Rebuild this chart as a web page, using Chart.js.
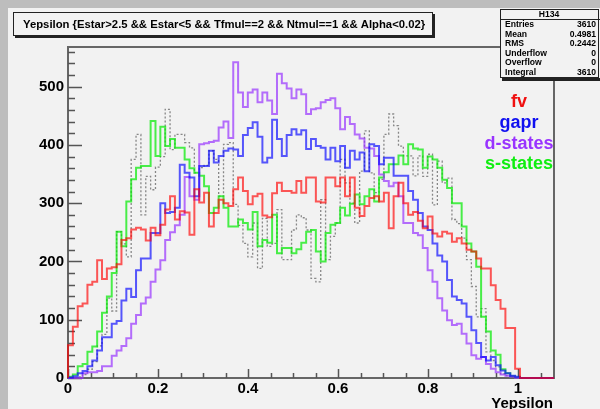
<!DOCTYPE html>
<html>
<head>
<meta charset="utf-8">
<script src="https://cdn.jsdelivr.net/npm/chart.js@4.4.1/dist/chart.umd.min.js"></script>
<style>
  html, body { margin: 0; padding: 0; background: #bdbdbd; }
  canvas { display: block; }
</style>
</head>
<body>
<canvas id="yepsilon" width="600" height="409"></canvas>
<script>
// 100 bins over [0, 1.08)
const binWidth = 0.0108;

const fv = [56, 88, 123, 128, 160, 165, 202, 170, 188, 190,
    195, 237, 240, 255, 258, 255, 236, 258, 245, 263,
    289, 312, 272, 286, 284, 246, 324, 301, 318, 260,
    283, 306, 300, 295, 324, 344, 321, 298, 312, 316,
    279, 276, 317, 335, 321, 321, 318, 338, 318, 344,
    344, 303, 301, 344, 344, 329, 344, 312, 344, 292,
    278, 295, 309, 312, 303, 318, 257, 312, 335, 300,
    280, 285, 270, 257, 277, 248, 243, 251, 248, 234,
    240, 231, 220, 217, 205, 188, 188, 159, 134, 119,
    86, 86, 16, 0, 0, 0, 0, 0, 0, 0];

const gapr = [1, 3, 8, 12, 20, 30, 47, 70, 70, 93,
    98, 133, 153, 139, 185, 205, 205, 249, 249, 300,
    283, 285, 292, 366, 352, 344, 312, 364, 364, 390,
    370, 381, 390, 394, 392, 381, 417, 429, 439, 414,
    370, 378, 443, 410, 381, 417, 427, 418, 425, 393,
    410, 398, 395, 375, 395, 372, 398, 361, 390, 375,
    387, 355, 401, 398, 367, 378, 378, 347, 347, 347,
    321, 306, 283, 260, 254, 231, 210, 200, 168, 140,
    134, 128, 105, 82, 60, 36, 30, 36, 22, 13,
    8, 4, 2, 0, 0, 0, 0, 0, 0, 0];

const dStates = [0, 0, 0, 8, 10, 10, 12, 20, 20, 38,
    47, 55, 68, 93, 108, 128, 138, 165, 186, 202,
    237, 250, 262, 280, 345, 312, 306, 401, 403, 405,
    407, 430, 440, 412, 542, 490, 465, 490, 495, 473,
    490, 476, 453, 522, 506, 497, 480, 495, 487, 453,
    461, 463, 473, 477, 480, 463, 427, 448, 436, 418,
    411, 395, 394, 381, 349, 338, 329, 335, 312, 266,
    266, 249, 245, 223, 185, 165, 137, 116, 99, 91,
    93, 76, 59, 39, 33, 36, 24, 16, 10, 6,
    4, 2, 0, 0, 0, 0, 0, 0, 0, 0];

const sStates = [2, 6, 20, 24, 45, 54, 80, 112, 140, 180,
    251, 226, 303, 341, 361, 364, 364, 441, 381, 431,
    398, 410, 395, 395, 375, 360, 352, 347, 329, 283,
    292, 312, 292, 260, 260, 272, 266, 255, 285, 226,
    237, 232, 280, 214, 223, 223, 214, 221, 232, 251,
    254, 217, 200, 249, 263, 266, 292, 279, 299, 315,
    298, 312, 324, 303, 344, 353, 367, 367, 382, 367,
    401, 394, 392, 361, 380, 375, 361, 340, 326, 300,
    300, 260, 231, 217, 191, 105, 80, 47, 40, 15,
    8, 3, 1, 0, 0, 0, 0, 0, 0, 0];

const h134 = [0, 0, 2, 6, 15, 28, 55, 75, 137, 115,
    251, 230, 208, 375, 418, 280, 346, 323, 362, 380,
    461, 392, 418, 418, 404, 395, 352, 361, 365, 390,
    375, 312, 401, 404, 298, 262, 231, 208, 266, 188,
    274, 226, 231, 289, 203, 203, 254, 280, 275, 254,
    171, 165, 306, 203, 243, 266, 375, 335, 300, 266,
    355, 424, 352, 318, 341, 418, 453, 433, 398, 381,
    381, 347, 381, 346, 384, 297, 372, 335, 343, 272,
    265, 240, 203, 157, 105, 119, 45, 30, 19, 7,
    4, 1, 0, 0, 0, 0, 0, 0, 0, 0];

const legendNames = ['fv', 'gapr', 'd-states', 's-states'];
const legendColors = ['#f01010', '#1010f0', '#9933ff', '#10ee10'];

const statLabels = ['Entries', 'Mean', 'RMS', 'Underflow', 'Overflow', 'Integral'];
const statValues = ['3610', '0.4981', '0.2442', '0', '0', '3610'];

const titleText = 'Yepsilon {Estar>2.5 && Estar<5 && Tfmul==2 && Ntmul==1 && Alpha<0.02}';
const FONT = '"Liberation Sans", Arial, sans-serif';

// outline of a histogram: one step per bin, starting and ending on the axis
function histPoints(values) {
    const pts = [{ x: 0, y: 0 }];
    values.forEach((v, i) => pts.push({ x: i * binWidth, y: v }));
    pts.push({ x: values.length * binWidth, y: 0 });
    return pts;
}

function histSet(label, values, color, dash) {
    return {
        label: label,
        data: histPoints(values),
        borderColor: color,
        borderWidth: dash ? 1.3 : 2,
        borderDash: dash || [],
        stepped: 'before',
        pointRadius: 0,
        fill: false,
        clip: false
    };
}

const rootPad = {
    id: 'rootPad',
    beforeDraw(chart) {
        const { ctx, width, height } = chart;
        ctx.save();
        ctx.fillStyle = '#bdbdbd';
        ctx.fillRect(0, 0, width, height);
        ctx.fillStyle = '#f2f2f2';
        ctx.fillRect(8, 8, width - 8, height - 8);
        ctx.restore();
    },
    beforeDatasetsDraw(chart) {
        const { ctx, chartArea: { left, top, right, bottom } } = chart;
        const xs = chart.scales.x, ys = chart.scales.y;
        ctx.save();
        ctx.strokeStyle = '#666';
        ctx.lineWidth = 2;
        ctx.strokeRect(left, top, right - left, bottom - top);
        ctx.lineWidth = 1.5;
        ctx.strokeStyle = '#555';
        ctx.beginPath();
        for (let v = 0; v <= 560; v += 20) {
            const py = Math.round(ys.getPixelForValue(v)) + 0.5;
            ctx.moveTo(left, py);
            ctx.lineTo(left + (v % 100 === 0 ? 14 : 7), py);
        }
        for (let k = 0; k <= 21; k++) {
            const px = Math.round(xs.getPixelForValue(k * 0.05)) + 0.5;
            ctx.moveTo(px, bottom);
            ctx.lineTo(px, bottom - (k % 4 === 0 ? 9 : 5));
        }
        ctx.stroke();
        ctx.restore();
    },
    afterDraw(chart) {
        const { ctx } = chart;
        ctx.save();

        // title pave with shadow
        ctx.fillStyle = '#222';
        ctx.fillRect(15, 14, 420, 24);
        ctx.fillStyle = '#f2f2f2';
        ctx.fillRect(13, 12, 420, 24);
        ctx.strokeStyle = '#222';
        ctx.lineWidth = 1;
        ctx.strokeRect(13.5, 12.5, 419, 23);
        ctx.fillStyle = '#000';
        ctx.font = 'bold 11.3px ' + FONT;
        ctx.textBaseline = 'middle';
        ctx.textAlign = 'left';
        ctx.fillText(titleText, 23, 24.5);

        // statistics box
        ctx.fillStyle = '#222';
        ctx.fillRect(502, 11, 100, 70);
        ctx.fillStyle = '#f2f2f2';
        ctx.fillRect(500, 9, 100, 69);
        ctx.strokeStyle = '#222';
        ctx.strokeRect(500.5, 9.5, 98, 68);
        ctx.beginPath();
        ctx.moveTo(500, 19.5);
        ctx.lineTo(600, 19.5);
        ctx.stroke();
        ctx.fillStyle = '#000';
        ctx.font = 'bold 8.6px ' + FONT;
        ctx.textAlign = 'center';
        ctx.fillText('H134', 549, 14.5);
        statLabels.forEach((s, i) => {
            const y = 25 + i * 9.5;
            ctx.textAlign = 'left';
            ctx.fillText(s, 505, y);
            ctx.textAlign = 'right';
            ctx.fillText(statValues[i], 596, y);
        });

        // series names
        ctx.font = 'bold 18px ' + FONT;
        ctx.textAlign = 'center';
        ctx.textBaseline = 'alphabetic';
        const baselines = [107, 127.5, 148.5, 169];
        legendNames.forEach((n, i) => {
            ctx.fillStyle = legendColors[i];
            ctx.fillText(n, 519, baselines[i]);
        });

        // x axis title
        ctx.fillStyle = '#000';
        ctx.font = 'bold 15px ' + FONT;
        ctx.textAlign = 'right';
        ctx.fillText('Yepsilon', 553, 408);
        ctx.restore();
    }
};

new Chart(document.getElementById('yepsilon'), {
    type: 'line',
    data: {
        datasets: [
            histSet('fv', fv, 'rgba(255,0,0,0.65)'),
            histSet('gapr', gapr, 'rgba(0,0,255,0.65)'),
            histSet('d-states', dStates, 'rgba(153,51,255,0.7)'),
            histSet('s-states', sStates, 'rgba(0,235,0,0.7)'),
            histSet('H134', h134, 'rgba(90,90,90,0.7)', [2, 2])
        ]
    },
    options: {
        responsive: false,
        animation: false,
        events: [],
        layout: { padding: { top: 47, right: 46, bottom: 0, left: 0 } },
        scales: {
            x: {
                type: 'linear',
                min: 0,
                max: 1.08,
                grid: { display: false, drawTicks: false },
                border: { display: false },
                ticks: {
                    stepSize: 0.2,
                    includeBounds: false,
                    autoSkip: false,
                    maxRotation: 0,
                    padding: 2,
                    color: '#000',
                    font: { family: FONT, size: 15, weight: 'bold' },
                    callback: v => String(Math.round(v * 10) / 10)
                },
                afterFit(s) { s.height = 31; }
            },
            y: {
                min: 0,
                max: 568,
                grid: { display: false, drawTicks: false },
                border: { display: false },
                ticks: {
                    stepSize: 100,
                    includeBounds: false,
                    padding: 4,
                    color: '#000',
                    font: { family: FONT, size: 15, weight: 'bold' }
                },
                afterFit(s) { s.width = 68; }
            }
        },
        plugins: {
            legend: { display: false },
            tooltip: { enabled: false }
        }
    },
    plugins: [rootPad]
});
</script>
</body>
</html>
